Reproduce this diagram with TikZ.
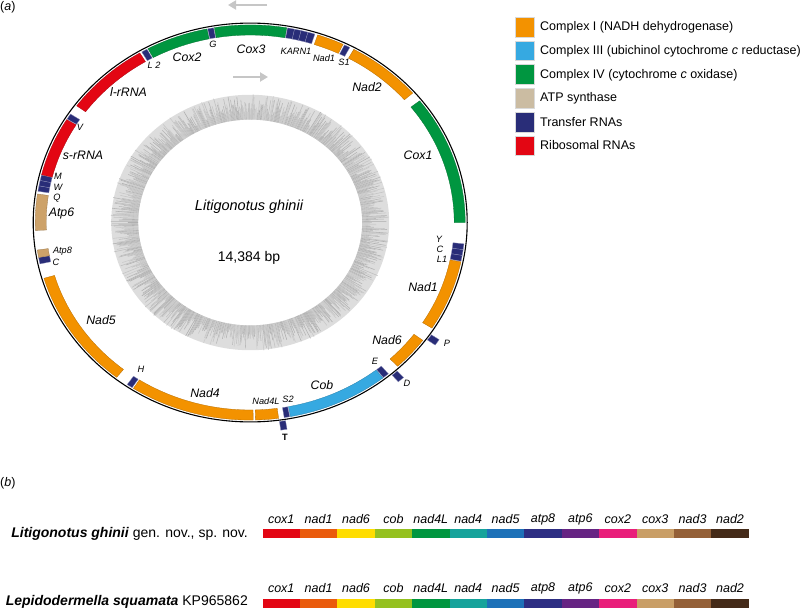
\documentclass[tikz,border=0pt]{standalone}
\usepackage{fontspec}
\setmainfont{Liberation Sans}
\usetikzlibrary{arrows.meta}

\definecolor{cI}{RGB}{243,146,0}
\definecolor{cIII}{RGB}{54,169,225}
\definecolor{cIV}{RGB}{0,150,64}
\definecolor{atp}{RGB}{205,162,105}
\definecolor{atpkey}{RGB}{203,188,162}
\definecolor{trna}{RGB}{41,45,120}
\definecolor{rrna}{RGB}{227,6,19}

\definecolor{bcoxI}{RGB}{227,6,19}
\definecolor{bnadI}{RGB}{234,91,12}
\definecolor{bnadVI}{RGB}{255,221,0}
\definecolor{bcob}{RGB}{149,193,31}
\definecolor{bnadIVL}{RGB}{0,150,64}
\definecolor{bnadIV}{RGB}{22,163,155}
\definecolor{bnadV}{RGB}{29,113,184}
\definecolor{batpVIII}{RGB}{45,46,131}
\definecolor{batpVI}{RGB}{102,36,131}
\definecolor{bcoxII}{RGB}{233,30,122}
\definecolor{bcoxIII}{RGB}{201,158,102}
\definecolor{bnadIII}{RGB}{148,96,56}
\definecolor{bnadII}{RGB}{68,42,24}

\newcommand{\gene}[3]{\filldraw[#1] ({90-#2}:215) arc[start angle={90-#2},end angle={90-#3},radius=215] -- ({90-#3}:204) arc[start angle={90-#3},end angle={90-#2},radius=204] -- cycle;}
\newcommand{\geneout}[3]{\filldraw[#1] ({90-#2}:228) arc[start angle={90-#2},end angle={90-#3},radius=228] -- ({90-#3}:218.5) arc[start angle={90-#3},end angle={90-#2},radius=218.5] -- cycle;}

\begin{document}
\begin{tikzpicture}[x=1pt, y=1pt,
  every node/.style={inner sep=0pt},
  gl/.style={font=\fontsize{12.3}{14}\selectfont\itshape},
  sl/.style={font=\fontsize{9.2}{11}\selectfont\itshape},
  blk/.style={fill=#1, draw=#1!75!black, line width=0.3pt},
  trn/.style={fill=trna, draw=trna!55!white, line width=0.3pt},
  skew/.style={line width=0.55pt},
  key/.style={minimum size=19.4pt, draw=white!85!black, line width=0.3pt},
  keytxt/.style={anchor=west, font=\fontsize{12.5}{14}\selectfont},
  bar/.style={minimum width=37.4pt, minimum height=9pt},
  barlbl/.style={font=\fontsize{12.5}{14}\selectfont\itshape},
  rowlbl/.style={anchor=east, font=\fontsize{14}{16}\selectfont},
  dirarrow/.style={draw=gray!45, line width=2.8pt, -{Triangle[length=8pt,width=9pt]}}
]
\useasboundingbox (0,0) rectangle (800,-610);

\node[anchor=west, font=\fontsize{12.5}{14}\selectfont] (parta) at (0,-7) {(\textit{a})};

\draw[dirarrow] (267,-5) -- (228,-5);
\draw[dirarrow] (233,-77) -- (268,-77);

\begin{scope}[shift={(250.2,-222.5)}, yscale=0.919]
  \fill[gray!27, even odd rule] (0,0) circle[radius=139] (0,0) circle[radius=112];
  \pgfmathsetseed{14384}
  \foreach \a in {0,0.4,...,359.8}{
    \pgfmathsetmacro{\rlen}{118+22*rnd}
    \pgfmathsetmacro{\shade}{40+25*rnd}
    \draw[skew, gray!\shade] (\a:112) -- (\a:\rlen);
  }
  \draw[line width=1.1pt] (0,0) circle[radius=217];
  \gene{blk=cIV}{331.6}{348.4}
  \gene{trn}{348.6}{350.2}
  \gene{blk=cIV}{350.4}{369.8}
  \gene{trn}{370.0}{371.9}
  \gene{trn}{371.9}{373.7}
  \gene{trn}{373.7}{375.6}
  \gene{trn}{375.6}{377.5}
  \gene{blk=cI}{378.3}{385.6}
  \gene{trn}{386.0}{387.6}
  \gene{blk=cI}{388.8}{409.1}
  \gene{blk=cIV}{412}{450}
  \gene{trn}{96.2}{97.9}
  \gene{trn}{97.9}{99.6}
  \gene{trn}{99.6}{101.3}
  \gene{blk=cI}{101.5}{122.3}
  \gene{blk=cI}{126.6}{136.7}
  \gene{trn}{140.0}{141.7}
  \gene{blk=cIII}{141.9}{169.2}
  \gene{trn}{169.4}{170.9}
  \gene{blk=cI}{172.4}{178.6}
  \gene{blk=cI}{179.2}{212.9}
  \gene{trn}{213.3}{214.9}
  \gene{blk=cI}{218.4}{253.6}
  \gene{trn}{257.9}{259.8}
  \gene{blk=atp}{259.8}{262.0}
  \gene{blk=atp}{267.7}{278.3}
  \gene{trn}{279.1}{280.7}
  \gene{trn}{280.7}{282.3}
  \gene{trn}{282.3}{283.9}
  \gene{blk=rrna}{284.0}{301.4}
  \gene{trn}{301.6}{303.3}
  \gene{blk=rrna}{306.2}{329.1}
  \gene{trn}{329.7}{331.3}
  \geneout{trn}{124.0}{125.8}
  \geneout{trn}{137.7}{139.5}
  \geneout{trn}{170.7}{172.3}
\end{scope}

\node[gl] (lcoxII) at (187,-57) {Cox2};
\node[gl] (lcoxIII) at (251,-49) {Cox3};
\node[sl] (lg) at (213,-44) {G};
\node[sl] (lkarn) at (296,-51) {KARN1};
\node[sl] (lnadIa) at (324,-58) {Nad1};
\node[sl] (lsI) at (344,-62) {S1};
\node[gl] (lnadII) at (367,-87) {Nad2};
\node[gl] (lcoxI) at (418,-155) {Cox1};
\node[sl] (llII) at (154,-65) {L 2};
\node[gl] (llr) at (128.5,-92) {l-rRNA};
\node[sl] (lv) at (80,-127) {V};
\node[gl] (lsr) at (83,-155) {s-rRNA};
\node[sl] (lm) at (58,-176) {M};
\node[sl] (lw) at (58,-187) {W};
\node[sl] (lq) at (57,-198) {Q};
\node[gl] (latpVI) at (61.5,-213) {Atp6};
\node[sl] (latpVIII) at (62.5,-251) {Atp8};
\node[sl] (lca) at (56,-262) {C};
\node[gl] (lnadV) at (101,-320) {Nad5};
\node[sl] (lh) at (141,-369) {H};
\node[gl] (lnadIV) at (205,-393) {Nad4};
\node[sl] (lnadIVL) at (266,-401) {Nad4L};
\node[sl] (lsII) at (288,-399) {S2};
\node[font=\fontsize{9.2}{11}\selectfont\bfseries] (lt) at (285,-437) {T};
\node[gl] (lcob) at (322,-385) {Cob};
\node[sl] (le) at (375,-361) {E};
\node[sl] (ld) at (407,-383) {D};
\node[gl] (lnadVI) at (387,-340) {Nad6};
\node[sl] (lp) at (447,-343) {P};
\node[gl] (lnadIb) at (423,-287) {Nad1};
\node[sl] (ly) at (439,-239) {Y};
\node[sl] (lcb) at (440,-249) {C};
\node[sl] (llI) at (442,-259) {L1};

\node[font=\fontsize{14.5}{16}\selectfont\itshape] (species) at (249,-207) {Litigonotus ghinii};
\node[font=\fontsize{14}{16}\selectfont] (size) at (249,-258) {14,384 bp};

\node[key, fill=cI] (keyI) at (524.7,-27) {};
\node[key, fill=cIII] (keyIII) at (524.7,-50.7) {};
\node[key, fill=cIV] (keyIV) at (524.7,-74) {};
\node[key, fill=atpkey] (keyatp) at (524.7,-98) {};
\node[key, fill=trna] (keytrna) at (524.7,-122) {};
\node[key, fill=rrna] (keyrrna) at (524.7,-145.4) {};
\node[keytxt] (txtI) at (540,-27.7) {Complex I (NADH dehydrogenase)};
\node[keytxt] (txtIII) at (540,-51.5) {Complex III (ubichinol cytochrome \textit{c} reductase)};
\node[keytxt] (txtIV) at (540,-75) {Complex IV (cytochrome \textit{c} oxidase)};
\node[keytxt] (txtatp) at (540,-98.7) {ATP synthase};
\node[keytxt] (txttrna) at (540,-122) {Transfer RNAs};
\node[keytxt] (txtrrna) at (540,-145.3) {Ribosomal RNAs};

\node[anchor=west, font=\fontsize{12.5}{14}\selectfont] (partb) at (0,-483) {(\textit{b})};

\node[rowlbl] (spa) at (248,-534) {\textbf{\textit{Litigonotus ghinii}} gen. nov., sp. nov.};
\node[rowlbl] (spb) at (248,-602) {\textbf{\textit{Lepidodermella squamata}} KP965862};

\foreach \g/\c [count=\i from 0] in {cox1/bcoxI, nad1/bnadI, nad6/bnadVI, cob/bcob, nad4L/bnadIVL, nad4/bnadIV, nad5/bnadV, atp8/batpVIII, atp6/batpVI, cox2/bcoxII, cox3/bcoxIII, nad3/bnadIII, nad2/bnadII}{
  \node[bar, fill=\c] (bara\i) at ({281.2+37.4*\i},-533.8) {};
  \node[barlbl] (laba\i) at ({281.2+37.4*\i},-519) {\g};
  \node[bar, fill=\c, minimum height=9.3pt] (barb\i) at ({281.2+37.4*\i},-603.7) {};
  \node[barlbl] (labb\i) at ({281.2+37.4*\i},-588) {\g};
}
\end{tikzpicture}
\end{document}
